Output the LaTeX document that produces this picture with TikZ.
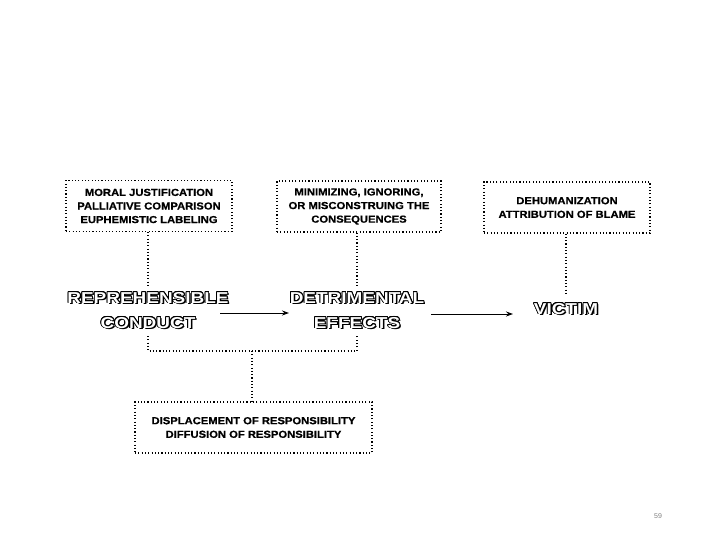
\documentclass[tikz,border=0pt]{standalone}
\usepackage{fontspec}
\setmainfont{Liberation Sans}
\newfontfamily\widefont[FakeStretch=1.2]{Liberation Sans Bold}
\newfontfamily\boxfont[FakeStretch=1.1,FakeBold=0.6]{Liberation Sans Bold}
\usepackage[copies]{contour}
\usetikzlibrary{arrows.meta}
\contourlength{0.8pt}
\newcommand{\outl}[1]{\contour{black}{\textcolor{white}{#1}}}
\tikzset{
  dotbox/.style={draw, line width=1.1pt, dash pattern=on 1.1pt off 2.2pt, minimum width=#1, minimum height=51pt, inner sep=0pt, align=center, font=\boxfont\fontsize{10.2}{13.6}\selectfont},
  dotline/.style={line width=1.1pt, dash pattern=on 1.1pt off 2.2pt},
  bigword/.style={font=\widefont\fontsize{15.8}{17}\selectfont, inner sep=0pt},
  shadow/.style={font=\widefont\fontsize{15.8}{17}\selectfont, inner sep=0pt, text=black},
  arr/.style={line width=1pt, -{Stealth[length=7pt,width=5pt]}}
}
\newcommand{\bigw}[4]{%
  \node[shadow] (#1s) at (#2+1.5,#3+1.5) {#4};
  \node[bigword] (#1) at (#2,#3) {\outl{#4}};}
\begin{document}
\begin{tikzpicture}[x=1pt,y=-1pt]
\useasboundingbox (0,0) rectangle (720,540);
\fill[white] (0,0) rectangle (720,540);
\node[dotbox=166pt] (b1) at (149,206) {MORAL JUSTIFICATION\\PALLIATIVE COMPARISON\\EUPHEMISTIC LABELING};
\node[dotbox=164pt] (b2) at (359,206.5) {MINIMIZING, IGNORING,\\OR MISCONSTRUING THE\\CONSEQUENCES};
\node[dotbox=166pt] (b3) at (567,207.5) {DEHUMANIZATION\\ATTRIBUTION OF BLAME};
\node[dotbox=237pt] (b4) at (253.5,427.5) {DISPLACEMENT OF RESPONSIBILITY\\DIFFUSION OF RESPONSIBILITY};

\bigw{r1}{148}{298}{REPREHENSIBLE}
\bigw{r2}{148}{323}{CONDUCT}
\bigw{d1}{357}{298}{DETRIMENTAL}
\bigw{d2}{357}{323}{EFFECTS}
\bigw{v}{566}{309}{VICTIM}

\coordinate (t1) at (148,287);
\coordinate (t2) at (357,287);
\coordinate (t3) at (566,296);
\draw[dotline] (b1.south -| t1) -- (t1);
\draw[dotline] (b2.south -| t2) -- (t2);
\draw[dotline] (b3.south -| t3) -- (t3);

\coordinate (u1) at (148,336);
\coordinate (u2) at (357,336);
\coordinate (m) at (252,351);
\draw[dotline] (u1) -- (148,351) -- (357,351) -- (u2);
\draw[dotline] (m) -- (b4.north -| m);

\coordinate (a1s) at (220,313);
\coordinate (a1e) at (289,313);
\coordinate (a2s) at (431,314);
\coordinate (a2e) at (513,314);
\draw[arr] (a1s) -- (a1e);
\draw[arr] (a2s) -- (a2e);

\node[font=\fontsize{7}{8}\selectfont, text=gray] (pg) at (658,516) {59};
\end{tikzpicture}
\end{document}
